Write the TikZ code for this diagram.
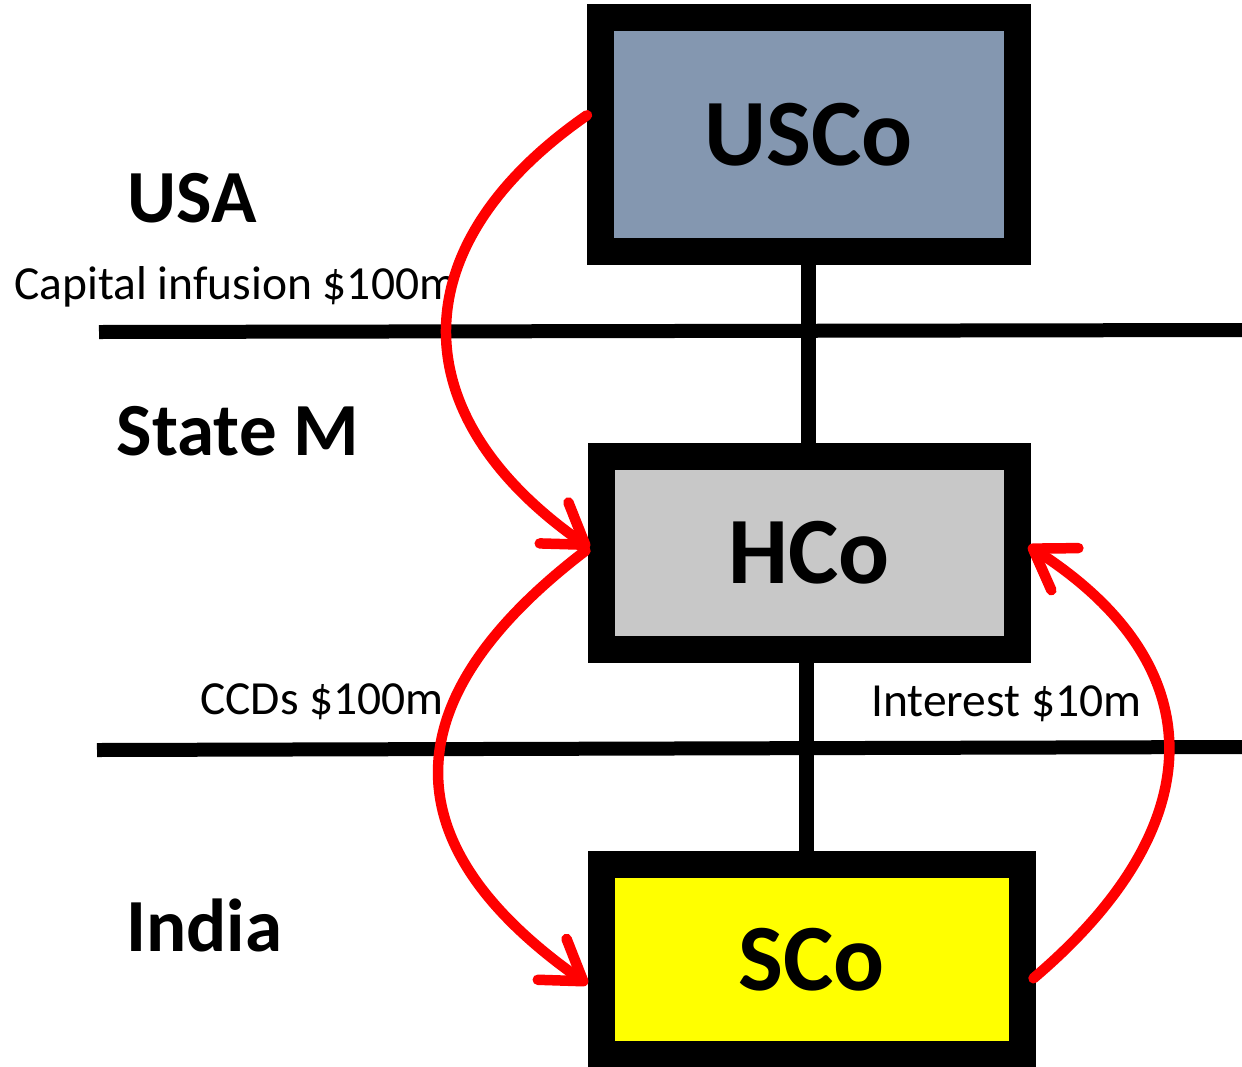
\documentclass[tikz,border=0pt]{standalone}
\usepackage{fontspec}
\setmainfont{Carlito}
\usetikzlibrary{arrows.meta,calc}
\definecolor{usblue}{RGB}{132,151,176}
\definecolor{hgray}{RGB}{200,200,200}
\definecolor{syellow}{RGB}{255,255,0}
\definecolor{flowred}{RGB}{255,0,0}
\begin{document}
\begin{tikzpicture}[x=1pt,y=-1pt,
  entity/.style={draw=black,line width=27pt,inner sep=0pt,
    font=\fontsize{95}{100}\selectfont\bfseries},
  country/.style={font=\fontsize{75}{80}\selectfont\bfseries},
  flowlabel/.style={font=\fontsize{47.5}{50}\selectfont,inner sep=0pt},
  border/.style={line width=14pt},
  link/.style={line width=15pt},
  flow/.style={draw=flowred,line width=10.5pt,line cap=round,
    -{Straight Barb[length=38pt,width=50pt,round]}}]
\useasboundingbox (0,0) rectangle (1242,1066);

% companies
\node[entity,fill=usblue,minimum width=416.5pt,minimum height=233.5pt] (usco) at (808.75,134.25) {USCo};
\node[entity,fill=hgray,minimum width=416pt,minimum height=192.5pt] (hco) at (809,552.75) {HCo};
\node[entity,fill=syellow,minimum width=421pt,minimum height=189.5pt] (sco) at (811.5,959.25) {SCo};

% ownership links
\draw[link] (usco.south) -- (usco.south |- hco.north);
\draw[link] ($(hco.south)+(-3,0)$) -- ($(hco.south |- sco.north)+(-3,0)$);

% country borders
\coordinate (b1w) at (99,332);
\coordinate (b1e) at (1242,330);
\coordinate (b2w) at (97,750);
\coordinate (b2e) at (1242,747);
\draw[border] (b1w) -- (b1e);
\draw[border] (b2w) -- (b2e);

% jurisdictions
\node[country] (usa) at (192,198) {USA};
\node[country] (statem) at (238,431) {State M};
\node[country] (india) at (204,925) {India};

% flow labels
\node[flowlabel,anchor=base west] (cap) at (14,299) {Capital infusion \$100m};
\node[flowlabel,anchor=base west] (ccd) at (200,714) {CCDs \$100m};
\node[flowlabel,anchor=base west] (intr) at (871,716) {Interest \$10m};

% money flows
\draw[flow] ($(usco.west)+(0,-19)$) .. controls (400,245) and (400,415) .. ($(hco.west)+(2,-5)$);
\draw[flow] ($(hco.west)+(-2,-2)$) .. controls (390,700) and (390,845) .. ($(sco.west)+(0,25)$);
\draw[flow] ($(sco.east)+(-2,19)$) .. controls (1214,825) and (1214,665) .. ($(hco.east)+(-2,-7)$);
\end{tikzpicture}
\end{document}
